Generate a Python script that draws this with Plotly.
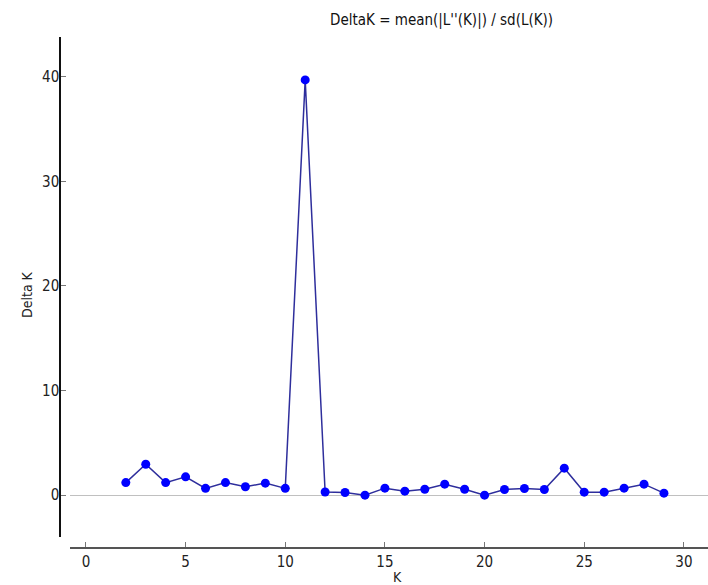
import plotly.graph_objects as go

K = list(range(2, 30))
delta_k = [1.2, 2.95, 1.2, 1.75, 0.65, 1.2, 0.8, 1.15, 0.65, 39.7,
           0.3, 0.25, 0.0, 0.67, 0.38, 0.57, 1.05, 0.57, 0.0, 0.54,
           0.64, 0.54, 2.58, 0.29, 0.29, 0.67, 1.05, 0.19]

W, H = 708, 585
font = "DejaVu Sans Condensed, DejaVu Sans"

fig = go.Figure()
fig.add_trace(go.Scatter(
    x=K, y=delta_k, mode="lines+markers",
    line=dict(color="#2e2e9c", width=1.5),
    marker=dict(color="#0000ff", size=9, line=dict(width=0)),
    showlegend=False,
))

fig.update_layout(
    width=W, height=H,
    margin=dict(l=0, r=0, t=0, b=0),
    plot_bgcolor="white", paper_bgcolor="white",
    font=dict(family=font, size=15, color="#222"),
    xaxis=dict(
        domain=[70 / W, 1.0], anchor="free", position=1 - 548 / H,
        range=[-0.8, 31.21], dtick=5, tick0=0,
        showgrid=False, zeroline=False,
        showline=True, linecolor="#555", linewidth=2,
        ticks="inside", ticklen=5, tickcolor="#777", tickwidth=1,
        tickfont=dict(family=font, size=15, color="#222"),
    ),
    yaxis=dict(
        domain=[1 - 537 / H, 1 - 37 / H], anchor="free", position=60 / W,
        range=[-4.0, 43.8], dtick=10, tick0=0,
        showgrid=False, zeroline=True, zerolinecolor="#c0c0c0", zerolinewidth=1,
        showline=True, linecolor="#111", linewidth=1.5,
        ticks="inside", ticklen=5, tickcolor="#777", tickwidth=1,
        tickfont=dict(family=font, size=15, color="#222"),
        ticklabelstandoff=-3,
    ),
    annotations=[
        dict(text="DeltaK = mean(|L''(K)|) / sd(L(K))", x=441 / W, y=1 - 20 / H,
             xref="paper", yref="paper", showarrow=False,
             font=dict(family=font, size=15, color="#111"),
             xanchor="center", yanchor="middle"),
        dict(text="K", x=397 / W, y=1 - 577 / H,
             xref="paper", yref="paper", showarrow=False,
             font=dict(family=font, size=14, color="#222"),
             xanchor="center", yanchor="middle"),
        dict(text="Delta K", x=27 / W, y=1 - 295 / H, textangle=-90,
             xref="paper", yref="paper", showarrow=False,
             font=dict(family=font, size=14, color="#222"),
             xanchor="center", yanchor="middle"),
    ],
)

fig.write_html("out.html")
